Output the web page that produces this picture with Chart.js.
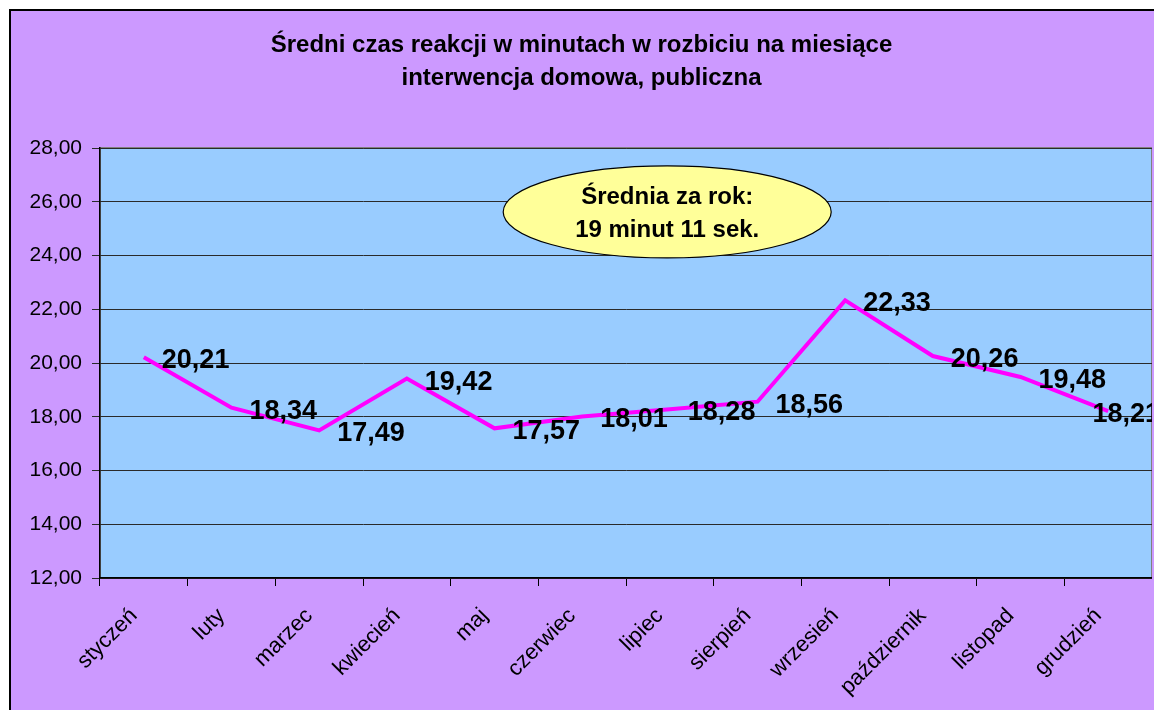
<!DOCTYPE html>
<html lang="pl">
<head>
<meta charset="utf-8">
<script src="https://cdn.jsdelivr.net/npm/chart.js@4.4.1/dist/chart.umd.min.js"></script>
<style>
  html, body { margin: 0; padding: 0; background: #fff; overflow: hidden; width: 1154px; height: 710px; }
  #box {
    position: absolute; left: 9px; top: 9px;
    width: 1160px; height: 740px;
    border: 2px solid #000; background: #cc99ff;
  }
  #wrap { position: absolute; left: 0; top: 0; width: 1141px; height: 740px; }
</style>
</head>
<body>
<div id="box"><div id="wrap"><canvas id="chart"></canvas></div></div>
<script>
/* ── Data ── */
const MONTHS = ["styczeń", "luty", "marzec", "kwiecień", "maj", "czerwiec",
                "lipiec", "sierpień", "wrzesień", "październik", "listopad", "grudzień"];
const VALUES = [20.21, 18.34, 17.49, 19.42, 17.57, 18.01, 18.28, 18.56, 22.33, 20.26, 19.48, 18.21];
const TITLE  = ["Średni czas reakcji w minutach w rozbiciu na miesiące", "interwencja domowa, publiczna"];
const NOTE   = ["Średnia za rok:", "19 minut 11 sek."];
const Y_MIN = 12, Y_MAX = 28, Y_STEP = 2;

const FONT = "'Liberation Sans', Arial, sans-serif";
const fmt = v => v.toFixed(2).replace(".", ",");

/* ── Plot area background + border ── */
const plotBg = {
  id: "plotBg",
  beforeDraw(chart) {
    const { ctx, chartArea: a } = chart;
    ctx.save();
    ctx.fillStyle = "#99ccff";
    ctx.fillRect(a.left, a.top, a.right - a.left, a.bottom - a.top);
    ctx.strokeStyle = "#808080";
    ctx.lineWidth = 2;
    ctx.strokeRect(a.left, a.top, a.right - a.left, a.bottom - a.top);
    ctx.restore();
  },
};

/* ── Value labels to the right of each point ── */
const valueLabels = {
  id: "valueLabels",
  afterDatasetsDraw(chart) {
    const { ctx, chartArea: a } = chart;
    const meta = chart.getDatasetMeta(0);
    ctx.save();
    ctx.font = "bold 27px " + FONT;
    ctx.fillStyle = "#000";
    ctx.textBaseline = "alphabetic";
    meta.data.forEach((p, i) => {
      const txt = fmt(VALUES[i]);
      const w = ctx.measureText(txt).width;
      const x = Math.min(p.x + 18, a.right + 8 - w);
      ctx.fillText(txt, x, p.y + 11);
    });
    ctx.restore();
  },
};

/* ── Yellow ellipse note ── */
const note = {
  id: "note",
  afterDraw(chart) {
    const { ctx } = chart;
    const xs = chart.scales.x, ys = chart.scales.y;
    const cx = xs.getPixelForValue(5.97), cy = ys.getPixelForValue(25.62);
    ctx.save();
    ctx.beginPath();
    ctx.ellipse(cx, cy, 164, 46, 0, 0, Math.PI * 2);
    ctx.fillStyle = "#ffff99";
    ctx.fill();
    ctx.strokeStyle = "#000";
    ctx.lineWidth = 1.2;
    ctx.stroke();
    ctx.fillStyle = "#000";
    ctx.font = "bold 24px " + FONT;
    ctx.textAlign = "center";
    ctx.textBaseline = "middle";
    ctx.fillText(NOTE[0], cx, cy - 15);
    ctx.fillText(NOTE[1], cx, cy + 18);
    ctx.restore();
  },
};

new Chart(document.getElementById("chart"), {
  type: "line",
  data: {
    labels: MONTHS,
    datasets: [{
      data: VALUES, borderColor: "#ff00ff", borderWidth: 4,
      pointRadius: 0, tension: 0, fill: false,
    }],
  },
  options: {
    responsive: true, maintainAspectRatio: false, animation: false,
    layout: { padding: 0 },
    plugins: {
      legend: { display: false },
      tooltip: { enabled: false },
      title: {
        display: true, text: TITLE, color: "#000",
        font: { family: FONT, size: 24, weight: "bold", lineHeight: 1.375 },
        padding: { top: 17.5, bottom: 53.5 },
      },
    },
    scales: {
      x: {
        offset: true,
        grid: { display: true, drawOnChartArea: false, offset: true, tickLength: 8, color: "#000" },
        border: { color: "#000", width: 1.5 },
        ticks: { color: "#000", minRotation: 45, maxRotation: 45, padding: 17, labelOffset: -10,
                 font: { family: FONT, size: 22 } },
        afterFit(s) { s.height = 173; },
      },
      y: {
        min: Y_MIN, max: Y_MAX,
        grid: { color: "#2a2a2a", lineWidth: 1, tickLength: 8 },
        border: { color: "#000", width: 1.5 },
        ticks: { stepSize: Y_STEP, color: "#000", padding: 10,
                 font: { family: FONT, size: 21 }, callback: v => fmt(v) },
        afterFit(s) { s.width = 89; },
      },
    },
  },
  plugins: [plotBg, valueLabels, note],
});
</script>
</body>
</html>
